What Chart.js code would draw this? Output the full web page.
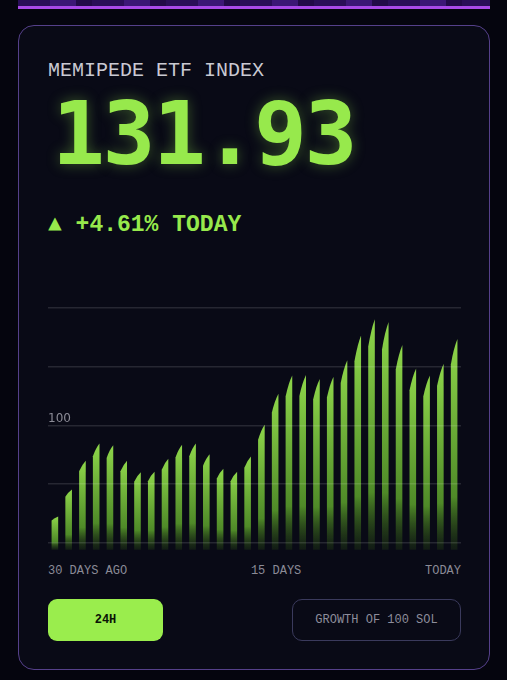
<!DOCTYPE html>
<html>
<head>
<meta charset="utf-8">
<script src="https://cdn.jsdelivr.net/npm/chart.js@4.4.1/dist/chart.umd.min.js"></script>
<style>
  html, body { margin: 0; padding: 0; }
  body { width: 507px; height: 680px; background: #05050e; position: relative; overflow: hidden; }
  .strip { position: absolute; left: 18px; top: 0; width: 472px; height: 6px;
    background: repeating-linear-gradient(90deg, #2a0e58 0 32px, #3c1776 32px 58px, #220a48 58px 74px);
    border-bottom: 3px solid #a94ae8; }
  .card { position: absolute; left: 18px; top: 25px; width: 472px; height: 645px; box-sizing: border-box;
    border: 1px solid #55408a; border-radius: 16px; background: #090a16; }
  .mono { font-family: "Courier New", "Liberation Mono", Cousine, Courier, monospace; }
  .title { position: absolute; left: 48px; top: 61px; font-size: 20px; line-height: 20px; color: #c9c9d2; white-space: nowrap; }
  .price { position: absolute; left: 52px; top: 90px; font: bold 88px/88px "DejaVu Sans Mono", monospace; letter-spacing: -2.5px;
    color: #97e94c; text-shadow: 0 0 14px rgba(150, 232, 76, 0.35); white-space: nowrap; }
  .change { position: absolute; left: 48px; top: 214px; font-size: 23px; line-height: 23px; font-weight: bold; color: #97e94c; white-space: nowrap; }
  .chartbox { position: absolute; left: 48px; top: 300px; width: 413px; height: 257px; }
  .xlabels { position: absolute; left: 48px; top: 565px; width: 413px; display: flex; justify-content: space-between;
    font-size: 12px; line-height: 12px; color: #8b8b96; }
  .btn { position: absolute; top: 599px; height: 42px; box-sizing: border-box; display: flex; align-items: center; justify-content: center;
    font-size: 12px; }
  .btn.on { left: 48px; width: 115px; background: #9aed4d; border-radius: 9px; color: #0b1406; font-weight: bold; }
  .btn.off { left: 292px; width: 169px; border: 1.5px solid #3a3a5c; border-radius: 10px; color: #8d8d9b; }
</style>
</head>
<body>
<div class="strip"></div>
<div class="card"></div>
<div class="title mono">MEMIPEDE ETF INDEX</div>
<div class="price">131.93</div>
<div class="change mono">▲ +4.61% TODAY</div>
<div class="chartbox"><canvas id="chart"></canvas></div>
<div class="xlabels mono"><span>30 DAYS AGO</span><span>15 DAYS</span><span>TODAY</span></div>
<div class="btn on mono">24H</div>
<div class="btn off mono">GROWTH OF 100 SOL</div>
<script>
// 30 daily values, oldest first
const days = ['D-29','D-28','D-27','D-26','D-25','D-24','D-23','D-22','D-21','D-20',
  'D-19','D-18','D-17','D-16','D-15','D-14','D-13','D-12','D-11','D-10',
  'D-9','D-8','D-7','D-6','D-5','D-4','D-3','D-2','D-1','D-0'];
const indexValues = [84.5, 89.1, 94.0, 96.9, 96.6, 94.0, 92.0, 92.1, 94.3, 96.7,
  96.9, 95.1, 92.6, 92.1, 94.7, 100.1, 105.4, 108.5, 108.6, 107.9,
  108.3, 111.1, 115.3, 118.1, 117.6, 113.7, 109.7, 108.5, 110.5, 114.7];
const gridValues = [80, 90, 100, 110, 120];
const labelledTick = 100;

// bars drawn as slanted "blades" from the bar elements' own geometry
const blades = {
  id: 'blades',
  afterDatasetsDraw(chart) {
    const ctx = chart.ctx;
    const bottom = chart.chartArea.bottom;
    ctx.save();
    chart.getDatasetMeta(0).data.forEach(bar => {
      const { x, y, base, width } = bar.getProps(['x', 'y', 'base', 'width'], true);
      const b = Math.min(base, bottom);
      const l = x - width / 2, r = x + width / 2;
      const slant = (b - y) * 0.12;
      const g = ctx.createLinearGradient(0, y, 0, b);
      g.addColorStop(0, '#8ed64a');
      g.addColorStop(0.75, '#4f8a28');
      g.addColorStop(1, 'rgba(40,70,20,0.3)');
      ctx.beginPath();
      ctx.moveTo(l, b);
      ctx.lineTo(l, y + slant);
      ctx.quadraticCurveTo(l + width * 0.45, y + slant * 0.35, r, y);
      ctx.lineTo(r, b);
      ctx.closePath();
      ctx.fillStyle = g;
      ctx.fill();
    });
    ctx.restore();
  }
};

new Chart(document.getElementById('chart'), {
  type: 'bar',
  data: {
    labels: days,
    datasets: [{
      data: indexValues,
      backgroundColor: 'rgba(0,0,0,0)',
      barPercentage: 1,
      categoryPercentage: 0.48
    }]
  },
  plugins: [blades],
  options: {
    responsive: true,
    maintainAspectRatio: false,
    animation: false,
    layout: { padding: { top: 8, bottom: 0, left: 0, right: 0 } },
    plugins: { legend: { display: false }, tooltip: { enabled: false } },
    scales: {
      x: { display: false },
      y: {
        min: 78.81,
        max: 120,
        afterBuildTicks: axis => { axis.ticks = gridValues.map(v => ({ value: v })); },
        border: { display: false },
        grid: { color: 'rgba(255,255,255,0.12)', lineWidth: 1.5, drawTicks: false, z: 1 },
        ticks: {
          mirror: true,
          padding: 0,
          labelOffset: -7,
          color: '#8b8b96',
          font: { family: 'DejaVu Sans', size: 12 },
          callback: v => (v === labelledTick ? String(v) : '')
        }
      }
    }
  }
});
</script>
</body>
</html>
